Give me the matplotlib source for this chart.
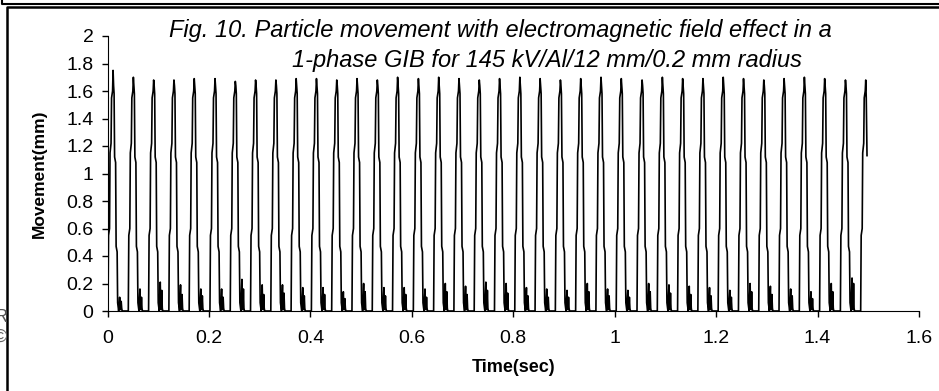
import matplotlib
matplotlib.use("Agg")
import matplotlib.pyplot as plt
from matplotlib.lines import Line2D

# start time of each rise (s)
cycle_start = [0.001, 0.041, 0.081, 0.121, 0.161, 0.202, 0.242, 0.282, 0.322, 0.362,
               0.402, 0.442, 0.482, 0.522, 0.562, 0.603, 0.643, 0.683, 0.723, 0.763,
               0.803, 0.843, 0.883, 0.923, 0.963, 1.003, 1.044, 1.084, 1.124, 1.164,
               1.204, 1.244, 1.284, 1.324, 1.364, 1.404, 1.445, 1.485]
# peak height of each jump (mm)
peak = [1.75, 1.70, 1.68, 1.68, 1.69, 1.69, 1.67, 1.68, 1.68, 1.69,
        1.69, 1.68, 1.69, 1.68, 1.70, 1.69, 1.70, 1.69, 1.68, 1.69,
        1.70, 1.69, 1.68, 1.69, 1.70, 1.69, 1.68, 1.70, 1.69, 1.69,
        1.70, 1.69, 1.68, 1.69, 1.70, 1.69, 1.68, 1.68]
# small rebounds after landing (mm)
bounce_a = [0.10, 0.16, 0.21, 0.19, 0.16, 0.16, 0.23, 0.19, 0.19, 0.17,
            0.17, 0.14, 0.20, 0.17, 0.17, 0.16, 0.20, 0.18, 0.21, 0.20,
            0.17, 0.16, 0.15, 0.20, 0.16, 0.15, 0.20, 0.19, 0.18, 0.17,
            0.15, 0.20, 0.18, 0.16, 0.14, 0.20, 0.24]
bounce_b = [0.07, 0.10, 0.15, 0.12, 0.11, 0.10, 0.16, 0.12, 0.13, 0.11,
            0.12, 0.09, 0.14, 0.11, 0.12, 0.10, 0.14, 0.12, 0.15, 0.13,
            0.11, 0.10, 0.10, 0.14, 0.11, 0.10, 0.14, 0.13, 0.12, 0.11,
            0.10, 0.14, 0.12, 0.11, 0.09, 0.14, 0.20]

# shape of one jump (offset s, level mm); peak goes at 0.010
rise_dt = [0.0, 0.001, 0.003, 0.004, 0.006, 0.007, 0.009]
rise_val = [0.0, 0.55, 0.60, 1.15, 1.22, 1.55, 1.60]
fall_dt = [0.011, 0.012, 0.013, 0.015, 0.016, 0.018, 0.019, 0.021]
fall_val = [1.64, 1.58, 1.12, 1.08, 0.47, 0.43, 0.06, 0.0]
bounce_dt = [0.023, 0.024, 0.025, 0.026, 0.027, 0.028]
last_end = (0.0125, 1.13)

t = [0.0]
y = [0.1]
for i, s in enumerate(cycle_start):
    t += [s + d for d in rise_dt]
    y += rise_val
    t.append(s + 0.010)
    y.append(peak[i])
    if i == len(cycle_start) - 1:
        t += [s + 0.011, s + last_end[0]]
        y += [1.55, last_end[1]]
        break
    t += [s + d for d in fall_dt]
    y += fall_val
    t += [s + d for d in bounce_dt]
    y += [bounce_a[i], 0.02, 0.01, bounce_b[i], 0.02, 0.0]

plt.rcParams['font.family'] = ['Liberation Sans', 'DejaVu Sans']

fig = plt.figure(figsize=(9.39, 3.91), dpi=100)
W, H = 939, 391
ax = fig.add_axes([107.5 / W, 1 - 311 / H, (919 - 107.5) / W, (311 - 36) / H])
ax.plot(t, y, color='black', lw=1.2)

ax.set_xlim(0, 1.6)
ax.set_ylim(0, 2)
ax.set_xticks([0, 0.2, 0.4, 0.6, 0.8, 1, 1.2, 1.4, 1.6])
ax.set_xticklabels(['0', '0.2', '0.4', '0.6', '0.8', '1', '1.2', '1.4', '1.6'])
ax.set_yticks([0, 0.2, 0.4, 0.6, 0.8, 1, 1.2, 1.4, 1.6, 1.8, 2])
ax.set_yticklabels(['0', '0.2', '0.4', '0.6', '0.8', '1', '1.2', '1.4', '1.6', '1.8', '2'])
ax.spines['top'].set_visible(False)
ax.spines['right'].set_visible(False)
ax.tick_params(axis='both', length=4.5, width=1, labelsize=14, direction='out')
ax.tick_params(axis='x', pad=9)
ax.tick_params(axis='y', pad=5.5)
ax.set_xlabel('Time(sec)', fontsize=13, fontweight='bold', labelpad=9)
ax.set_ylabel('Movement(mm)', fontsize=12.5, fontweight='bold', labelpad=14)

fig.text(169 / W, 1 - 30 / H, 'Fig. 10. Particle movement with electromagnetic field effect in a',
         fontsize=17, style='italic', va='center', ha='left')
fig.text(292 / W, 1 - 60 / H, '1-phase GIB for 145 kV/Al/12 mm/0.2 mm radius',
         fontsize=17, style='italic', va='center', ha='left')

# clipped marks at the left page edge
fig.text(-6 / W, 1 - 318 / H, 'R', fontsize=13, color='#555555', va='center', ha='left')
fig.text(-6 / W, 1 - 337 / H, '\u00a9', fontsize=13, color='#666666', va='center', ha='left')

# page frame
fig.add_artist(Line2D([7 / W, 7 / W, 1.01], [0, 1 - 7 / H, 1 - 7 / H], color='black', lw=1.8,
                      transform=fig.transFigure))
fig.add_artist(Line2D([2 / W, 2 / W, 1.01], [1.01, 1 - 3.5 / H, 1 - 3.5 / H], color='black',
                      lw=1.5, transform=fig.transFigure))

fig.savefig('out.png', dpi=100)
